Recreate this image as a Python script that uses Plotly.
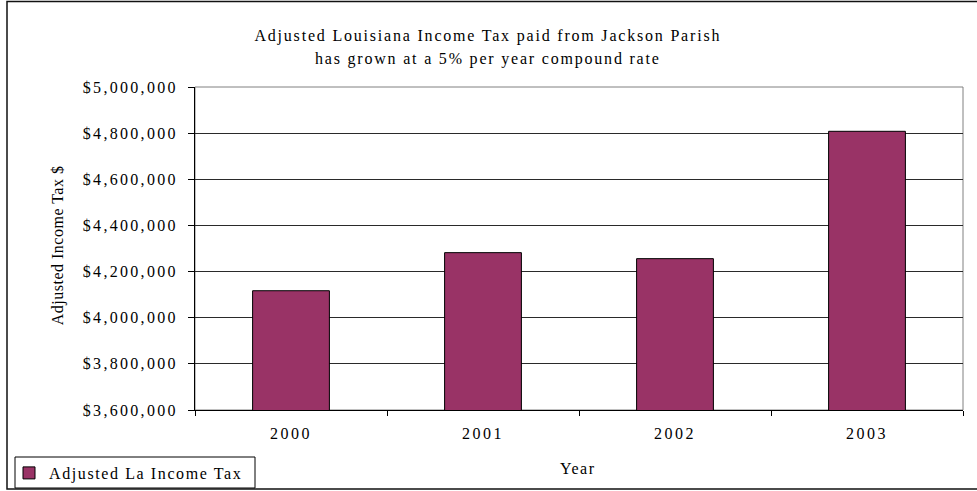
import plotly.graph_objects as go

# Chart data
years = ["2000", "2001", "2002", "2003"]
adjusted_tax = [4117000, 4282000, 4256000, 4808000]
series_name = "Adjusted La Income Tax"
title_lines = [
    "Adjusted Louisiana Income Tax paid from Jackson Parish",
    "has grown at a 5% per year compound rate",
]
y_title = "Adjusted Income Tax $"
x_title = "Year"
y_min, y_max, y_step = 3600000, 5000000, 200000

FONT = "Liberation Serif"
BAR = "#993366"

# Frame geometry (pixels)
W, H = 977, 491
L, R, T, B = 195, 14, 87, 81
PW, PH = W - L - R, H - T - B


def px(xpix):
    return (xpix - L) / PW


def py(ypix):
    return (H - B - ypix) / PH


fig = go.Figure(
    go.Bar(
        x=years,
        y=adjusted_tax,
        name=series_name,
        marker=dict(color=BAR, line=dict(color="black", width=1)),
        showlegend=True,
    )
)

annotations = [
    dict(text=title_lines[0], x=px(488), y=py(36)),
    dict(text=title_lines[1], x=px(488), y=py(59)),
    dict(text=y_title, x=px(58), y=py(246), textangle=-90),
    dict(text=x_title, x=px(578), y=py(468)),
]
for a in annotations:
    a.update(xref="paper", yref="paper", xanchor="center", yanchor="middle",
             showarrow=False, font=dict(family=FONT, size=16, color="black"))

shapes = [
    # plot-area frame
    dict(type="rect", xref="paper", yref="paper", x0=0, x1=1, y0=0, y1=1,
         line=dict(color="#808080", width=1), layer="below"),
    # outer chart border
    dict(type="rect", xref="paper", yref="paper",
         x0=px(7), x1=px(990), y0=py(489), y1=py(1.5),
         line=dict(color="#111111", width=1.5)),
    # legend box
    dict(type="rect", xref="paper", yref="paper",
         x0=px(15), x1=px(255), y0=py(488), y1=py(457),
         line=dict(color="black", width=1), fillcolor="white", layer="below"),
]

fig.update_layout(
    width=W, height=H,
    margin=dict(l=L, r=R, t=T, b=B, autoexpand=False),
    paper_bgcolor="white", plot_bgcolor="white",
    font=dict(family=FONT, size=16, color="black"),
    bargap=0.6,
    annotations=annotations,
    shapes=shapes,
    showlegend=True,
    legend=dict(
        x=px(9), y=py(456), xanchor="left", yanchor="top",
        orientation="h", entrywidth=220, entrywidthmode="pixels",
        borderwidth=0, bgcolor="rgba(0,0,0,0)",
        font=dict(family=FONT, size=16, color="black"),
    ),
    xaxis=dict(
        type="category", range=[-0.5, 3.5],
        showline=True, linecolor="black", linewidth=1,
        ticks="outside", tickson="boundaries", ticklen=5, tickcolor="black",
        ticklabelstandoff=9,
        showgrid=False, tickfont=dict(family=FONT, size=16),
    ),
    yaxis=dict(
        range=[y_min, y_max], dtick=y_step, tick0=y_min,
        tickprefix="$", tickformat=",d",
        showline=True, linecolor="black", linewidth=1,
        ticks="outside", ticklen=6, tickcolor="black",
        ticklabelstandoff=7,
        showgrid=True, gridcolor="#2a2a2a", gridwidth=1, zeroline=False,
        tickfont=dict(family=FONT, size=16),
    ),
)

# Spaced-out lettering used throughout the chart text
spacing_css = """
.annotation[data-index="0"] text, .annotation[data-index="1"] text { letter-spacing: 1.8px; }
.annotation[data-index="2"] text { letter-spacing: 0.5px; }
.annotation[data-index="3"] text { letter-spacing: 1.5px; }
.ytick text { letter-spacing: 2.3px; }
.xtick text { letter-spacing: 2.5px; }
.legendtext { letter-spacing: 1.6px; }
"""
post = (
    "var st=document.createElement('style');"
    "st.textContent=" + repr(spacing_css).replace("\n", " ") + ";"
    "document.head.appendChild(st);"
)

fig.write_html("out.html", post_script=post)
